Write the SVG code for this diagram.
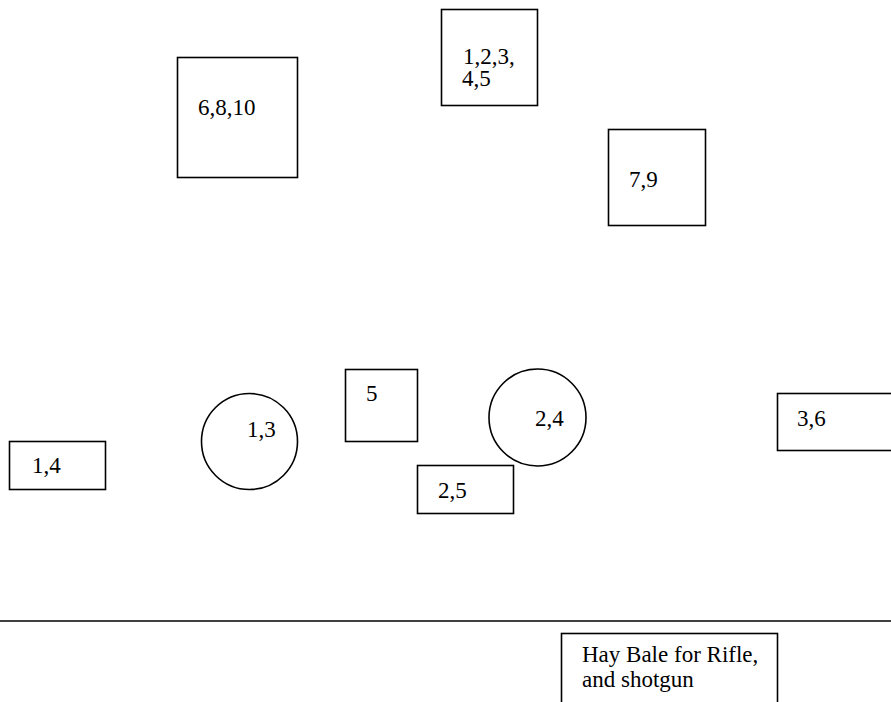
<svg xmlns="http://www.w3.org/2000/svg" width="891" height="702" viewBox="0 0 891 702">
<style>
.s{fill:none;stroke:#000;stroke-width:1.6}
.t{font-family:'Liberation Serif','Times New Roman',serif;font-size:23px;fill:#000}
</style>
<rect width="891" height="702" fill="#fff"/>
<g class="t">
<g id="n-6-8-10"><rect class="s" x="177.5" y="57.5" width="120" height="120"/><text x="198" y="115">6,8,10</text></g>
<g id="n-1-2-3-4-5"><rect class="s" x="441.5" y="9.5" width="96" height="96"/><text x="463" y="64">1,2,3,</text><text x="462" y="86">4,5</text></g>
<g id="n-7-9"><rect class="s" x="608.5" y="129.5" width="97" height="96"/><text x="629" y="187">7,9</text></g>
<g id="n-1-4"><rect class="s" x="9.5" y="441.5" width="96" height="48"/><text x="32" y="473">1,4</text></g>
<g id="n-1-3"><circle class="s" cx="249.5" cy="441.5" r="48"/><text x="247" y="437">1,3</text></g>
<g id="n-5"><rect class="s" x="345.5" y="369.5" width="72" height="72"/><text x="366" y="401">5</text></g>
<g id="n-2-4"><circle class="s" cx="537.5" cy="417.5" r="48.5"/><text x="535" y="426">2,4</text></g>
<g id="n-2-5"><rect class="s" x="417.5" y="465.5" width="96" height="48"/><text x="438" y="498">2,5</text></g>
<g id="n-3-6"><rect class="s" x="777.5" y="393.5" width="120" height="57"/><text x="797" y="426">3,6</text></g>
<g id="connectors"><line class="s" x1="0" y1="621" x2="891" y2="621"/></g>
<g id="n-hay-bale"><rect class="s" x="561.5" y="633.5" width="216" height="80"/><text x="582" y="662">Hay Bale for Rifle,</text><text x="582" y="687">and shotgun</text></g>
</g>
</svg>
